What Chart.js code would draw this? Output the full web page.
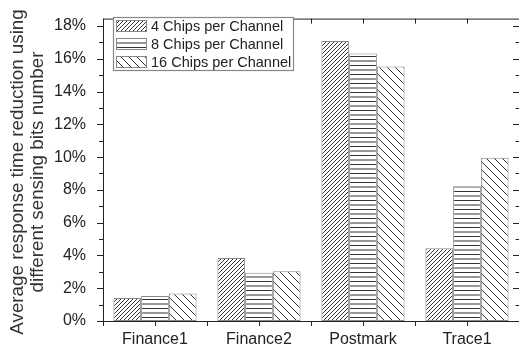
<!DOCTYPE html>
<html>
<head>
<meta charset="utf-8">
<script src="https://cdn.jsdelivr.net/npm/chart.js@4/dist/chart.umd.min.js"></script>
<style>
  html, body { margin: 0; padding: 0; background: #fff; }
  #wrap { width: 519px; height: 344px; }
</style>
</head>
<body>
<div id="wrap"><canvas id="c" width="519" height="344"></canvas></div>
<script>
// Workloads on the x axis
const categories = ['Finance1', 'Finance2', 'Postmark', 'Trace1'];
// Response time reduction (%) per configuration
const chips4 = [1.41, 3.84, 17.09, 4.44];
const chips8 = [1.53, 2.95, 16.32, 8.22];
const chips16 = [1.68, 3.03, 15.53, 9.96];
const seriesLabels = ['4 Chips per Channel', '8 Chips per Channel', '16 Chips per Channel'];
// Y axis
const yMajorTicks = [0, 2, 4, 6, 8, 10, 12, 14, 16, 18];
const yMinorTicks = [1, 3, 5, 7, 9, 11, 13, 15, 17];
const yMax = 18.45;
const yTitle = ['Average response time reduction using', 'different sensing bits number'];

const FONT = 'Arial, "Liberation Sans", Helvetica, sans-serif';
const INK = '#222';

// Hatch fills built as canvas patterns
function hatch(kind) {
  const c = document.createElement('canvas');
  const g = c.getContext('2d');
  let w, h;
  if (kind === 'fwd') { w = h = 4; }
  else if (kind === 'back') { w = h = 8; }
  else { w = 4; h = 9; }
  c.width = w; c.height = h;
  g.fillStyle = '#fff';
  g.fillRect(0, 0, w, h);
  g.strokeStyle = '#333';
  g.lineWidth = 1;
  g.beginPath();
  if (kind === 'fwd') {
    for (const k of [-w, 0, w]) { g.moveTo(k, h); g.lineTo(k + w, 0); }
  } else if (kind === 'back') {
    for (const k of [-w, 0, w]) { g.moveTo(k, 0); g.lineTo(k + w, h); }
  } else {
    g.moveTo(0, 2.5); g.lineTo(w, 2.5);
    g.moveTo(0, 7); g.lineTo(w, 7);
  }
  g.stroke();
  return g.createPattern(c, 'repeat');
}

const fills = [hatch('fwd'), hatch('horiz'), hatch('back')];

// Frame, tick marks, legend and the two-line y title
const decor = {
  id: 'decor',
  afterDatasetsDraw(chart) {
    const { ctx, chartArea: a, scales } = chart;
    const x = scales.x, y = scales.y;
    ctx.save();
    ctx.strokeStyle = INK;
    ctx.lineWidth = 1;
    // frame
    ctx.strokeRect(a.left + 0.5, a.top + 0.5, a.right - a.left, a.bottom - a.top);
    ctx.beginPath();
    // y ticks: outward on the left, inward on the right
    for (const v of yMajorTicks) {
      const p = Math.round(y.getPixelForValue(v)) + 0.5;
      ctx.moveTo(a.left - 6, p); ctx.lineTo(a.left, p);
      ctx.moveTo(a.right - 6, p); ctx.lineTo(a.right, p);
    }
    for (const v of yMinorTicks) {
      const p = Math.round(y.getPixelForValue(v)) + 0.5;
      ctx.moveTo(a.left - 4, p); ctx.lineTo(a.left, p);
      ctx.moveTo(a.right - 3.5, p); ctx.lineTo(a.right, p);
    }
    // x ticks at category centres and boundaries
    const n = categories.length;
    for (let i = 0; i < n; i++) {
      const c = x.getPixelForValue(i);
      const half = (x.getPixelForValue(1) - x.getPixelForValue(0)) / 2;
      for (const px of [c, c - half]) {
        const p = Math.round(px) + 0.5;
        ctx.moveTo(p, a.bottom); ctx.lineTo(p, a.bottom + 5);
        ctx.moveTo(p, a.top); ctx.lineTo(p, a.top + 5);
      }
    }
    ctx.stroke();
    ctx.restore();
  },
  afterDraw(chart) {
    const { ctx } = chart;
    ctx.save();
    // legend
    const bx = 113.5, by = 17.5, bw = 180, bh = 53;
    ctx.fillStyle = '#fff';
    ctx.fillRect(bx, by, bw, bh);
    ctx.strokeStyle = '#888';
    ctx.lineWidth = 1.2;
    ctx.strokeRect(bx, by, bw, bh);
    ctx.font = '14.5px ' + FONT;
    ctx.textBaseline = 'middle';
    ctx.textAlign = 'left';
    chart.data.datasets.forEach((ds, i) => {
      const cy = 26 + i * 18;
      ctx.fillStyle = ds.backgroundColor;
      ctx.fillRect(116, cy - 6, 31, 12);
      ctx.strokeStyle = '#888';
      ctx.lineWidth = 1;
      ctx.strokeRect(116.5, cy - 5.5, 30, 11);
      ctx.fillStyle = INK;
      ctx.fillText(ds.label, 151, cy + 0.5);
    });
    // y title
    ctx.font = '18.8px ' + FONT;
    ctx.fillStyle = '#333';
    ctx.textAlign = 'center';
    ctx.textBaseline = 'middle';
    const cy = 172;
    yTitle.forEach((t, i) => {
      ctx.save();
      ctx.translate(17.5 + i * 20.5, cy);
      ctx.rotate(-Math.PI / 2);
      ctx.fillText(t, 0, 0);
      ctx.restore();
    });
    ctx.restore();
  }
};

new Chart(document.getElementById('c'), {
  type: 'bar',
  data: {
    labels: categories,
    datasets: [chips4, chips8, chips16].map((d, i) => ({
      label: seriesLabels[i],
      data: d,
      backgroundColor: fills[i],
      borderColor: '#888',
      borderWidth: 1,
      borderSkipped: false,
      categoryPercentage: 0.8,
      barPercentage: 1.0
    }))
  },
  options: {
    responsive: false,
    animation: false,
    devicePixelRatio: 1,
    layout: { padding: { top: 10.5, right: 0, bottom: 0, left: 0 } },
    plugins: { legend: { display: false }, tooltip: { enabled: false } },
    scales: {
      x: {
        grid: { display: false },
        border: { display: false },
        ticks: { color: INK, font: { family: FONT, size: 16 }, padding: 0.5, maxRotation: 0 },
        afterFit(s) { s.height = 23; }
      },
      y: {
        min: 0,
        max: yMax,
        grid: { display: false },
        border: { display: false },
        ticks: {
          stepSize: 2,
          includeBounds: false,
          color: INK,
          font: { family: FONT, size: 16 },
          padding: 9,
          callback: v => v + '%'
        },
        afterFit(s) { s.width = 103; }
      }
    }
  },
  plugins: [decor]
});
</script>
</body>
</html>
